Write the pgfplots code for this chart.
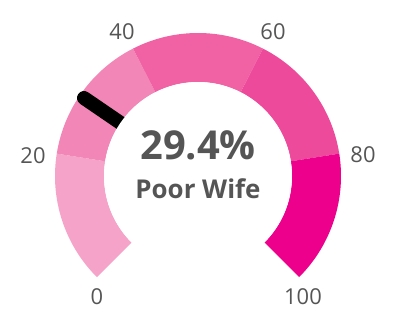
\documentclass[border=0pt]{standalone}
\usepackage{pgfplots}
\pgfplotsset{compat=1.18}
\usepackage{fontspec}
\setmainfont{Open Sans}
\definecolor{gA}{HTML}{F5A3C8}
\definecolor{gB}{HTML}{F286B6}
\definecolor{gC}{HTML}{F062A3}
\definecolor{gD}{HTML}{EE4A9C}
\definecolor{gE}{HTML}{EC008C}
\definecolor{txt}{HTML}{555555}
\begin{document}
\begin{tikzpicture}
\begin{axis}[x=1bp,y=1bp,xmin=0,xmax=405,ymin=0,ymax=326,hide axis,clip=false]
\path (axis cs:0,0) rectangle (axis cs:405,326);
% gauge bands: value v at angle 225-2.7v
\fill[gA,shift={(axis cs:198,150)}] (225:143bp) arc[start angle=225,end angle=171,radius=143bp] -- (171:94bp) arc[start angle=171,end angle=225,radius=94bp] -- cycle;
\fill[gB,shift={(axis cs:198,150)}] (171:143bp) arc[start angle=171,end angle=117,radius=143bp] -- (117:94bp) arc[start angle=117,end angle=171,radius=94bp] -- cycle;
\fill[gC,shift={(axis cs:198,150)}] (117:143bp) arc[start angle=117,end angle=63,radius=143bp] -- (63:94bp) arc[start angle=63,end angle=117,radius=94bp] -- cycle;
\fill[gD,shift={(axis cs:198,150)}] (63:143bp) arc[start angle=63,end angle=9,radius=143bp] -- (9:94bp) arc[start angle=9,end angle=63,radius=94bp] -- cycle;
\fill[gE,shift={(axis cs:198,150)}] (9:143bp) arc[start angle=9,end angle=-45,radius=143bp] -- (-45:94bp) arc[start angle=-45,end angle=9,radius=94bp] -- cycle;
% needle at 29.4
\addplot[black,line width=14bp,line cap=round] coordinates {(132.0,195.2) (84.0,228.0)};
\fill[white] (axis cs:198,150) circle[radius=94bp];
% labels
\node[txt,font=\fontsize{22}{25}\selectfont] at (axis cs:97,29) {0};
\node[txt,font=\fontsize{22}{25}\selectfont] at (axis cs:33,170) {20};
\node[txt,font=\fontsize{22}{25}\selectfont] at (axis cs:122,294) {40};
\node[txt,font=\fontsize{22}{25}\selectfont] at (axis cs:273,294) {60};
\node[txt,font=\fontsize{22}{25}\selectfont] at (axis cs:363,171) {80};
\node[txt,font=\fontsize{22}{25}\selectfont] at (axis cs:303,29) {100};
\node[txt,font=\bfseries\fontsize{40}{44}\selectfont] at (axis cs:198,181) {29.4\%};
\node[txt,font=\bfseries\fontsize{26}{29}\selectfont] at (axis cs:198,137) {Poor Wife};
\end{axis}
\end{tikzpicture}
\end{document}
